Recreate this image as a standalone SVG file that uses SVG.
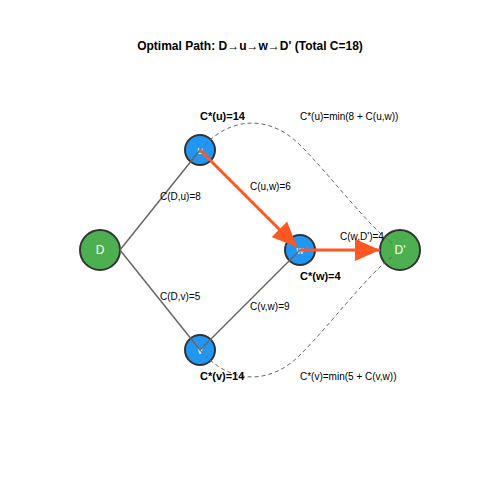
<svg xmlns="http://www.w3.org/2000/svg" width="500" height="500" viewBox="0 0 500 500">
<style>
.node-b{fill:#2196F3;stroke:#333;stroke-width:2}
.node-g{fill:#4CAF50;stroke:#333;stroke-width:2}
.nl{font-family:"Liberation Sans",Arial,sans-serif;fill:#fff;text-anchor:middle}
.edge{stroke:#666;stroke-width:1.5;fill:none}
.opt{stroke:#FF5722;stroke-width:3;fill:none}
.dash{stroke:#666;stroke-width:1;fill:none;stroke-dasharray:4,3}
.lbl{font-family:"Liberation Sans",Arial,sans-serif;font-size:10px;fill:#000}
.bold{font-family:"Liberation Sans",Arial,sans-serif;font-size:11px;font-weight:bold;fill:#000}
</style>
<defs>
<marker id="ah" markerUnits="userSpaceOnUse" markerWidth="26" markerHeight="22" refX="25" refY="11" orient="auto">
<path d="M0,0 L25,11 L0,22 z" fill="#FF5722"/>
</marker>
</defs>
<rect width="500" height="500" fill="#fff"/>
<text x="250" y="50" text-anchor="middle" style="font-family:'Liberation Sans',Arial,sans-serif;font-size:12px;font-weight:bold">Optimal Path: D→u→w→D' (Total C=18)</text>
<g id="node-D"><circle class="node-g" cx="100" cy="250" r="20"/><text class="nl" x="100" y="254" font-size="12">D</text></g>
<g id="node-u"><circle class="node-b" cx="200" cy="150" r="15"/><text class="nl" x="200" y="154" font-size="10">u</text></g>
<g id="node-v"><circle class="node-b" cx="200" cy="350" r="15"/><text class="nl" x="200" y="354" font-size="10">v</text></g>
<g id="node-w"><circle class="node-b" cx="300" cy="250" r="15"/><text class="nl" x="300" y="254" font-size="10">w</text></g>
<g id="node-Dp"><circle class="node-g" cx="400" cy="250" r="20"/><text class="nl" x="400" y="254" font-size="12">D'</text></g>
<g id="connectors">
<line class="edge" x1="120" y1="250" x2="200" y2="150"/>
<line class="edge" x1="120" y1="250" x2="200" y2="350"/>
<line class="edge" x1="200" y1="350" x2="300" y2="250"/>
<path class="dash" d="M200,150 C230,115 270,115 300,145 S370,228 392,243"/>
<path class="dash" d="M200,350 C230,385 270,385 300,355 S370,272 392,257"/>
<line class="opt" x1="200" y1="150" x2="297" y2="247" marker-end="url(#ah)"/>
<line class="opt" x1="300" y1="250" x2="380" y2="250" marker-end="url(#ah)"/>
</g>
<g id="labels">
<text class="lbl" x="160" y="200">C(D,u)=8</text>
<text class="lbl" x="250" y="190">C(u,w)=6</text>
<text class="lbl" x="160" y="300">C(D,v)=5</text>
<text class="lbl" x="250" y="310">C(v,w)=9</text>
<text class="lbl" x="340" y="240">C(w,D')=4</text>
<text class="bold" x="200" y="120">C*(u)=14</text>
<text class="bold" x="300" y="280">C*(w)=4</text>
<text class="bold" x="200" y="380">C*(v)=14</text>
<text class="lbl" x="300" y="120">C*(u)=min(8 + C(u,w))</text>
<text class="lbl" x="300" y="380">C*(v)=min(5 + C(v,w))</text>
</g>
</svg>
